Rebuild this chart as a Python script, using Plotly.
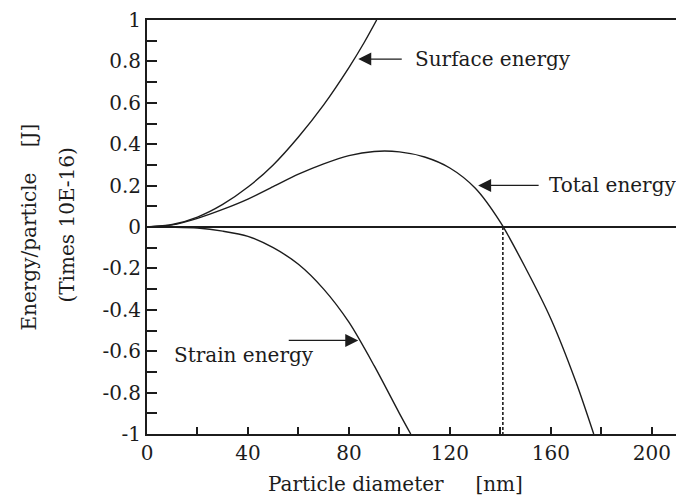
import plotly.graph_objects as go

# readings from the figure: particle diameter (nm) vs energy per particle (x 10E-16 J)
surface_d = [0, 10, 20, 30, 40, 50, 60, 70, 80, 86, 91]
surface_e = [0, 0.012, 0.048, 0.109, 0.193, 0.30, 0.435, 0.59, 0.77, 0.89, 1.0]

strain_d = [0, 10, 20, 30, 40, 50, 60, 70, 80, 90, 100, 104.5]
strain_e = [0, -0.001, -0.005, -0.02, -0.045, -0.1, -0.18, -0.3, -0.46, -0.67, -0.9, -1.0]

total_d = [0, 10, 20, 30, 40, 50, 60, 70, 80, 90, 100, 110, 120, 130, 140, 150, 160, 170, 177]
total_e = [0, 0.01, 0.042, 0.085, 0.135, 0.195, 0.255, 0.305, 0.345, 0.365, 0.363, 0.338,
           0.285, 0.188, 0.023, -0.198, -0.443, -0.75, -1.0]

critical_d = [141, 141]
critical_e = [0, -1]

y_ticks = [-1, -0.8, -0.6, -0.4, -0.2, 0, 0.2, 0.4, 0.6, 0.8, 1]
y_tick_text = ["-1", "-0.8", "-0.6", "-0.4", "-0.2", "0", "0.2", "0.4", "0.6", "0.8", "1"]
x_ticks = [0, 40, 80, 120, 160, 200]

INK = "#1c1c1c"
FONT = dict(family="DejaVu Serif", size=20, color=INK)
NB = "\u00a0"

fig = go.Figure()
for d, e in [(surface_d, surface_e), (strain_d, strain_e), (total_d, total_e)]:
    fig.add_trace(go.Scatter(x=d, y=e, mode="lines",
                             line=dict(color=INK, width=1.4, shape="spline", smoothing=0.8),
                             showlegend=False))
fig.add_trace(go.Scatter(x=critical_d, y=critical_e, mode="lines",
                         line=dict(color=INK, width=1.6, dash="3px,2px"), showlegend=False))

fig.update_layout(width=676, height=500, margin=dict(l=147, r=0, t=20, b=66),
                  paper_bgcolor="white", plot_bgcolor="white", font=FONT)

fig.update_xaxes(range=[0, 209.6], tickvals=x_ticks, showgrid=False, zeroline=False,
                 showline=True, linecolor=INK, linewidth=2, mirror=True,
                 ticks="inside", ticklen=7, tickcolor=INK, tickwidth=1.5,
                 minor=dict(dtick=20, ticks="inside", ticklen=7, tickcolor=INK, tickwidth=1.5))
fig.update_yaxes(range=[-1, 1], tickvals=y_ticks, ticktext=y_tick_text, showgrid=False,
                 zeroline=True, zerolinecolor=INK, zerolinewidth=2,
                 showline=True, linecolor=INK, linewidth=2,
                 ticks="inside", ticklen=10, tickcolor=INK, tickwidth=1.5,
                 minor=dict(dtick=0.1, ticks="inside", ticklen=10, tickcolor=INK, tickwidth=1.5))

# curve labels
ARROW = dict(showarrow=True, arrowhead=2, arrowsize=2, arrowwidth=1.3, arrowcolor=INK)
fig.add_annotation(text="Surface energy", x=105.5, y=0.811, xanchor="left", showarrow=False)
fig.add_annotation(text="", x=83.7, y=0.811, ax=45, ay=0, **ARROW)
fig.add_annotation(text="Total energy", x=158.5, y=0.201, xanchor="left", showarrow=False)
fig.add_annotation(text="", x=131.2, y=0.201, ax=62, ay=0, **ARROW)
fig.add_annotation(text="Strain energy", x=10, y=-0.62, xanchor="left", showarrow=False)
fig.add_annotation(text="", x=83.7, y=-0.548, ax=-71, ay=0, **ARROW)

# axis titles
fig.add_annotation(text="Particle diameter" + NB * 5 + "[nm]", xref="paper", yref="paper",
                   x=0.469, y=-0.12, xanchor="center", yanchor="middle", showarrow=False)
fig.add_annotation(text="Energy/particle" + NB * 4 + "[J]", xref="paper", yref="paper",
                   x=-0.224, y=0.5, textangle=-90, xanchor="center", yanchor="middle", showarrow=False)
fig.add_annotation(text="(Times 10E-16)", xref="paper", yref="paper",
                   x=-0.152, y=0.505, textangle=-90, xanchor="center", yanchor="middle", showarrow=False)

fig.write_html("out.html", config={"displayModeBar": False},
               post_script="document.body.style.margin='0';")
